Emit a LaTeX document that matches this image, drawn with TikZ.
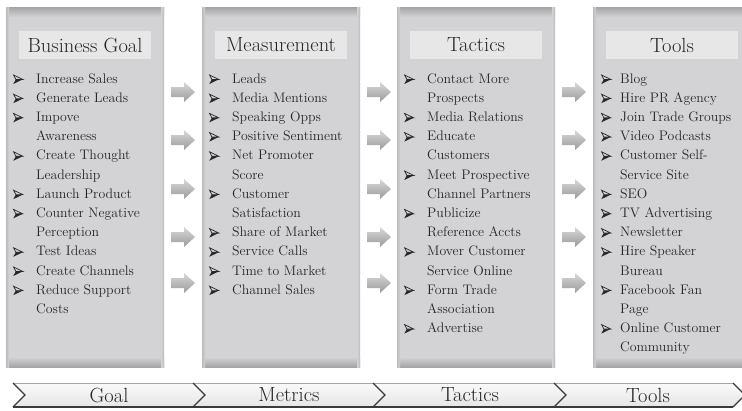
\documentclass[tikz,border=0pt]{standalone}
\usepackage{fontspec}
\definecolor{panelgray}{HTML}{D3D3D5}
\definecolor{bevelgray}{HTML}{A4A4A6}
\definecolor{edgegray}{HTML}{BBBBBD}
\definecolor{headgray}{HTML}{E7E7E8}
\definecolor{inkgray}{HTML}{262626}
\definecolor{bardark}{HTML}{3A3A3A}
% arrowhead bullet: outlined upper facet, solid lower facet
\newcommand\arrowbul{\tikz[baseline=0pt, x=1pt, y=1pt, line join=miter]{
  \fill[inkgray] (0,-1) -- (9.5,3.6) -- (2.6,3.6) -- cycle;
  \filldraw[fill=gray!35, draw=inkgray, line width=0.7pt] (0.3,8) -- (9.5,3.6) -- (2.6,3.6) -- cycle;}}
\newcommand\bul[1]{\makebox[23pt][l]{\arrowbul}#1\par}
\newcommand\cont[1]{\hspace*{23pt}#1\par}
\newcommand\bulx[1]{\makebox[19pt][l]{\arrowbul}#1\par}
\newcommand\contx[1]{\hspace*{19pt}#1\par}
\newcommand\itemlist[2]{\parbox[t]{#1}{\fontsize{13.8}{19.2}\selectfont\parindent=0pt\parskip=0pt\raggedright #2}}
\begin{document}
\begin{tikzpicture}[x=1pt,y=-1pt,
  headbox/.style={fill=headgray, minimum width=132pt, minimum height=28pt, inner sep=0pt,
    text=inkgray, font=\fontsize{20.5}{22}\selectfont},
  listbox/.style={anchor=base west, inner sep=0pt, text=inkgray},
  barlabel/.style={text=inkgray, font=\fontsize{20.5}{22}\selectfont, inner sep=0pt},
  blockarrow/.style={top color=gray!30, bottom color=gray!78, middle color=gray!55}]
\useasboundingbox (0,0) rectangle (742,410);
\fill[white] (0,0) rectangle (742,410);

% grey panels with bevelled edges
\foreach \l/\r in {6/164, 202/360, 397/555, 593/751}{
  \fill[panelgray] (\l,7) rectangle (\r,367);
  \shade[top color=bevelgray, bottom color=panelgray] (\l,7) rectangle (\r,17);
  \shade[top color=panelgray, bottom color=bevelgray] (\l,357) rectangle (\r,367);
  \shade[left color=edgegray, right color=panelgray] (\l,7) rectangle (\l+3,367);
  \shade[left color=panelgray, right color=edgegray] (\r-3,7) rectangle (\r,367);
}

% column headers
\node[headbox] (h1) at (85,45) {Business Goal};
\node[headbox] (h2) at (281,45) {Measurement};
\node[headbox] (h3) at (476,45) {Tactics};
\node[headbox] (h4) at (672,45) {Tools};

% bullet lists
\node[listbox] (l1) at (13,83) {\itemlist{150pt}{%
  \bul{Increase Sales}
  \bul{Generate Leads}
  \bul{Impove}
  \cont{Awareness}
  \bul{Create Thought}
  \cont{Leadership}
  \bul{Launch Product}
  \bul{Counter Negative}
  \cont{Perception}
  \bul{Test Ideas}
  \bul{Create Channels}
  \bul{Reduce Support}
  \cont{Costs}}};
\node[listbox] (l2) at (209,83) {\itemlist{150pt}{%
  \bul{Leads}
  \bul{Media Mentions}
  \bul{Speaking Opps}
  \bul{Positive Sentiment}
  \bul{Net Promoter}
  \cont{Score}
  \bul{Customer}
  \cont{Satisfaction}
  \bul{Share of Market}
  \bul{Service Calls}
  \bul{Time to Market}
  \bul{Channel Sales}}};
\node[listbox] (l3) at (404,83) {\itemlist{150pt}{%
  \bul{Contact More}
  \cont{Prospects}
  \bul{Media Relations}
  \bul{Educate}
  \cont{Customers}
  \bul{Meet Prospective}
  \cont{Channel Partners}
  \bul{Publicize}
  \cont{Reference Accts}
  \bul{Mover Customer}
  \cont{Service Online}
  \bul{Form Trade}
  \cont{Association}
  \bul{Advertise}}};
\node[listbox] (l4) at (601,83) {\itemlist{150pt}{%
  \bulx{Blog}
  \bulx{Hire PR Agency}
  \bulx{Join Trade Groups}
  \bulx{Video Podcasts}
  \bulx{Customer Self-}
  \contx{Service Site}
  \bulx{SEO}
  \bulx{TV Advertising}
  \bulx{Newsletter}
  \bulx{Hire Speaker}
  \contx{Bureau}
  \bulx{Facebook Fan}
  \contx{Page}
  \bulx{Online Customer}
  \contx{Community}}};

% shaded block arrows between the panels
\foreach \x in {171, 367, 562}{
  \foreach \y in {92, 140, 189, 237, 283}{
    \shade[blockarrow] (\x,\y-5) -- (\x+13,\y-5) -- (\x+13,\y-10) -- (\x+24,\y)
      -- (\x+13,\y+10) -- (\x+13,\y+5) -- (\x,\y+5) -- cycle;
  }
}

% chevron bar along the bottom
\shade[top color=gray!4, bottom color=gray!20]
  (13,383) -- (733,383) -- (745,395) -- (733,407) -- (13,407) -- (25,395) -- cycle;
\draw[gray!70, line width=0.8pt] (13,383) -- (733,383);
\draw[bardark, line width=1.8pt] (13,407) -- (733,407);
\foreach \b in {13, 193, 373, 554, 733}{
  \draw[bardark, line width=1.1pt] (\b,383) -- (\b+12,395) -- (\b,407);
}
\node[barlabel] (goal) at (109,395) {Goal};
\node[barlabel] (metrics) at (289,395) {Metrics};
\node[barlabel] (tactics) at (470,395) {Tactics};
\node[barlabel] (tools) at (648,395) {Tools};
\end{tikzpicture}
\end{document}
